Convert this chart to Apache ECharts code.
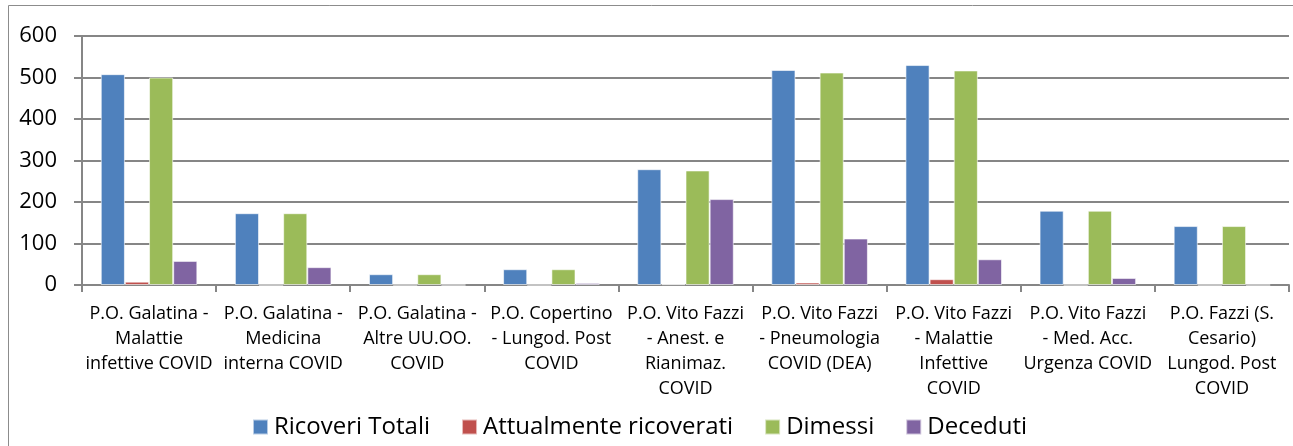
<!DOCTYPE html>
<html>
<head>
<meta charset="utf-8">
<script src="https://cdn.jsdelivr.net/npm/echarts@6/dist/echarts.min.js"></script>
<style>
  html, body { margin: 0; padding: 0; background: #fff; }
  #chart { width: 1293px; height: 446px; }
</style>
</head>
<body>
<div id="chart"></div>
<script>
// reparti (etichette asse x, con gli a capo come nel grafico)
const categories = [
  'P.O. Galatina -\nMalattie\ninfettive COVID',
  'P.O. Galatina -\nMedicina\ninterna COVID',
  'P.O. Galatina -\nAltre UU.OO.\nCOVID',
  'P.O. Copertino\n- Lungod. Post\nCOVID',
  'P.O. Vito Fazzi\n- Anest. e\nRianimaz.\nCOVID',
  'P.O. Vito Fazzi\n- Pneumologia\nCOVID (DEA)',
  'P.O. Vito Fazzi\n- Malattie\nInfettive\nCOVID',
  'P.O. Vito Fazzi\n- Med. Acc.\nUrgenza COVID',
  'P.O. Fazzi (S.\nCesario)\nLungod. Post\nCOVID'
];
const ricoveriTotali = [508, 173, 26, 38, 279, 518, 530, 179, 142];
const attualmenteRicoverati = [8, 0, 0, 0, 2, 6, 14, 0, 0];
const dimessi = [500, 173, 26, 38, 276, 512, 517, 179, 142];
const deceduti = [58, 43, 0, 5, 207, 112, 62, 17, 0];
const yTicks = [0, 100, 200, 300, 400, 500, 600];

const FONT = 'Open Sans';
var mychart = echarts.init(document.getElementById('chart'));

function barSeries(name, data, color) {
  return {
    name: name,
    type: 'bar',
    data: data,
    barGap: '0%',
    barCategoryGap: '28%',
    itemStyle: { color: color, borderColor: 'rgba(255,255,255,0.6)', borderWidth: 1 }
  };
}

const option = {
  animation: false,
  textStyle: { fontFamily: FONT },
  graphic: [{
    type: 'rect',
    shape: { x: 8.5, y: 5.5, width: 1300, height: 460 },
    style: { fill: 'none', stroke: '#8c8c8c', lineWidth: 1 },
    silent: true
  }],
  grid: { left: 82, right: 4, top: 36, bottom: 161 },
  legend: {
    left: 247,
    top: 410,
    itemWidth: 15,
    itemHeight: 15,
    itemGap: 31,
    icon: 'rect',
    textStyle: { fontFamily: FONT, fontSize: 24, color: '#000', padding: [0, 0, 0, 1] },
    data: ['Ricoveri Totali', 'Attualmente ricoverati', 'Dimessi', 'Deceduti']
  },
  xAxis: {
    type: 'category',
    data: categories,
    axisLine: { lineStyle: { color: '#868686', width: 2 } },
    axisTick: { show: true, length: 7, lineStyle: { color: '#868686', width: 2 } },
    axisLabel: {
      interval: 0,
      margin: 16,
      fontFamily: FONT,
      fontSize: 18,
      lineHeight: 25,
      color: '#000'
    }
  },
  yAxis: {
    type: 'value',
    min: yTicks[0],
    max: yTicks[yTicks.length - 1],
    interval: 100,
    axisLine: { show: true, lineStyle: { color: '#868686', width: 2 } },
    axisTick: { show: true, length: 8, lineStyle: { color: '#868686', width: 2 } },
    axisLabel: { margin: 25, fontFamily: FONT, fontSize: 22, color: '#000' },
    splitLine: { lineStyle: { color: '#868686', width: 2 } }
  },
  series: [
    barSeries('Ricoveri Totali', ricoveriTotali, '#4F81BD'),
    barSeries('Attualmente ricoverati', attualmenteRicoverati, '#C0504D'),
    barSeries('Dimessi', dimessi, '#9BBB59'),
    barSeries('Deceduti', deceduti, '#8064A2')
  ]
};
mychart.setOption(option);
</script>
</body>
</html>
